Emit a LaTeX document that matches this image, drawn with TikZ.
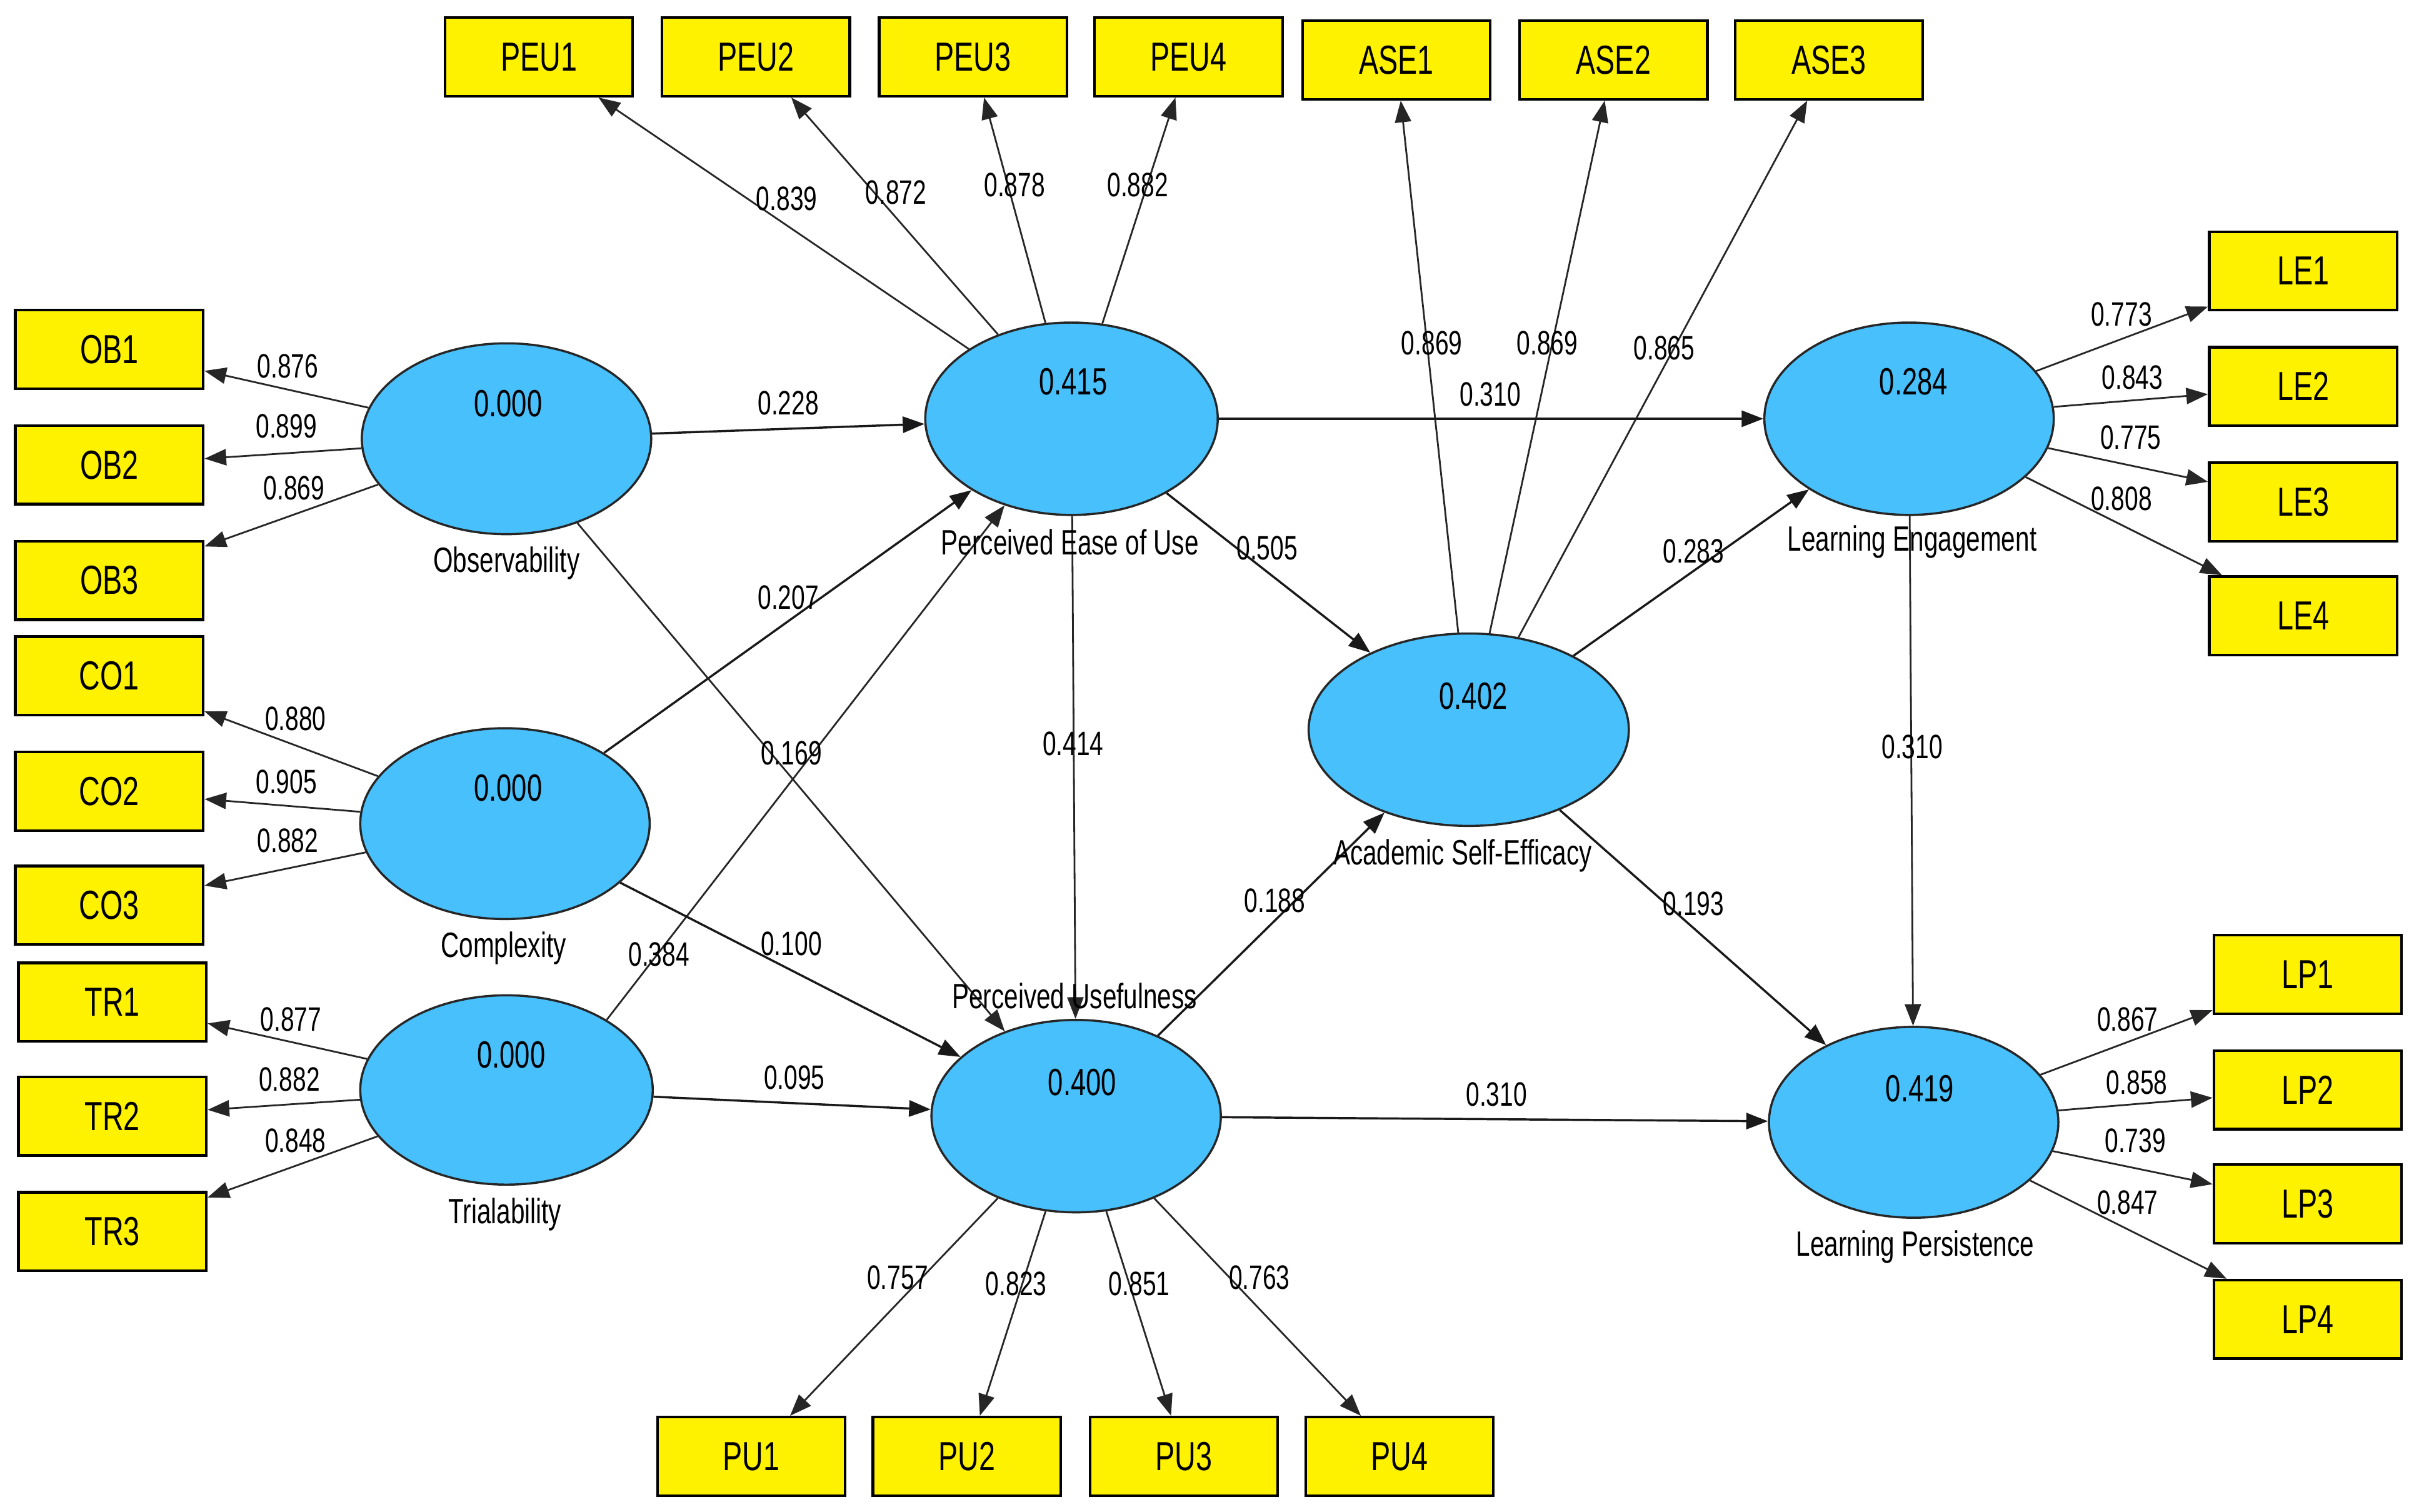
\documentclass[tikz,border=0pt]{standalone}
\usepackage{fontspec}
\setmainfont{Liberation Sans}[FakeStretch=0.72]
\usetikzlibrary{shapes.geometric,arrows.meta}
\definecolor{latblue}{RGB}{72,192,252}
\begin{document}
\begin{tikzpicture}[x=0.02cm,y=-0.02cm,
  ind/.style={draw=black, fill=yellow, line width=1pt, rectangle, inner sep=0pt,
    minimum width=2.44cm, minimum height=1.02cm, font=\fontsize{15}{18}\selectfont},
  lat/.style={ellipse, draw=black!85, fill=latblue, line width=0.8pt, inner sep=0pt,
    minimum width=3.76cm, minimum height=2.48cm},
  val/.style={inner sep=0pt, font=\fontsize{14}{17}\selectfont},
  nm/.style={inner sep=0pt, font=\fontsize{13}{16}\selectfont},
  ld/.style={inner sep=0pt, font=\fontsize{12.5}{15}\selectfont},
  con/.style={draw=black!85, line width=0.65pt, -{Triangle[length=8pt,width=6pt]}},
  path/.style={draw=black!90, line width=0.8pt, -{Triangle[length=8pt,width=6pt]}}]
\useasboundingbox (0,0) rectangle (1568,982);

% indicators
\node[ind] (ob1) at (71,227) {OB1};
\node[ind] (ob2) at (71,302) {OB2};
\node[ind] (ob3) at (71,377) {OB3};
\node[ind] (co1) at (71,439) {CO1};
\node[ind] (co2) at (71,514) {CO2};
\node[ind] (co3) at (71,588) {CO3};
\node[ind] (tr1) at (73,651) {TR1};
\node[ind] (tr2) at (73,725) {TR2};
\node[ind] (tr3) at (73,800) {TR3};
\node[ind] (peu1) at (350,37) {PEU1};
\node[ind] (peu2) at (491,37) {PEU2};
\node[ind] (peu3) at (632,37) {PEU3};
\node[ind] (peu4) at (772,37) {PEU4};
\node[ind] (ase1) at (907,39) {ASE1};
\node[ind] (ase2) at (1048,39) {ASE2};
\node[ind] (ase3) at (1188,39) {ASE3};
\node[ind] (le1) at (1496,176) {LE1};
\node[ind] (le2) at (1496,251) {LE2};
\node[ind] (le3) at (1496,326) {LE3};
\node[ind] (le4) at (1496,400) {LE4};
\node[ind] (lp1) at (1499,633) {LP1};
\node[ind] (lp2) at (1499,708) {LP2};
\node[ind] (lp3) at (1499,782) {LP3};
\node[ind] (lp4) at (1499,857) {LP4};
\node[ind] (pu1) at (488,946) {PU1};
\node[ind] (pu2) at (628,946) {PU2};
\node[ind] (pu3) at (769,946) {PU3};
\node[ind] (pu4) at (909,946) {PU4};

% latent variables
\node[lat] (ob) at (329,285) {};
\node[lat] (co) at (328,535) {};
\node[lat, minimum width=3.8cm, minimum height=2.46cm] (tr) at (329,708) {};
\node[lat, minimum width=3.8cm, minimum height=2.5cm] (peu) at (696,272) {};
\node[lat, minimum height=2.5cm] (pu) at (699,725) {};
\node[lat, minimum width=4.16cm, minimum height=2.5cm] (ase) at (954,474) {};
\node[lat, minimum height=2.5cm] (le) at (1240,272) {};
\node[lat] (lp) at (1243,729) {};

% outer loadings
\draw[con] (ob) -- (ob1);
\draw[con] (ob) -- (ob2);
\draw[con] (ob) -- (ob3);
\draw[con] (co) -- (co1);
\draw[con] (co) -- (co2);
\draw[con] (co) -- (co3);
\draw[con] (tr) -- (tr1);
\draw[con] (tr) -- (tr2);
\draw[con] (tr) -- (tr3);
\draw[con] (peu) -- (peu1);
\draw[con] (peu) -- (peu2);
\draw[con] (peu) -- (peu3);
\draw[con] (peu) -- (peu4);
\draw[con] (ase) -- (ase1);
\draw[con] (ase) -- (ase2);
\draw[con] (ase) -- (ase3);
\draw[con] (le) -- (le1);
\draw[con] (le) -- (le2);
\draw[con] (le) -- (le3);
\draw[con] (le) -- (le4);
\draw[con] (lp) -- (lp1);
\draw[con] (lp) -- (lp2);
\draw[con] (lp) -- (lp3);
\draw[con] (lp) -- (lp4);
\draw[con] (pu) -- (pu1);
\draw[con] (pu) -- (pu2);
\draw[con] (pu) -- (pu3);
\draw[con] (pu) -- (pu4);

% structural paths
\draw[path] (ob) -- (peu);
\draw[path] (co) -- (peu);
\draw[con] (tr.35) -- (peu);
\draw[con] (ob) -- (pu);
\draw[path] (co) -- (pu);
\draw[path] (tr) -- (pu);
\draw[con] (peu) -- (pu);
\draw[path] (peu) -- (ase);
\draw[path] (peu) -- (le);
\draw[path] (pu) -- (ase);
\draw[path] (pu) -- (lp);
\draw[path] (ase) -- (le);
\draw[path] (ase) -- (lp);
\draw[con] (le) -- (lp);

% values inside latent variables
\node[val] (vob) at (330,262) {0.000};
\node[val] (vco) at (330,512) {0.000};
\node[val] (vtr) at (332,685) {0.000};
\node[val] (vpeu) at (697,248) {0.415};
\node[val] (vpu) at (703,703) {0.400};
\node[val] (vase) at (957,452) {0.402};
\node[val] (vle) at (1243,248) {0.284};
\node[val] (vlp) at (1247,707) {0.419};

% latent names
\node[nm] (nob) at (329,366) {Observability};
\node[nm] (nco) at (327,616) {Complexity};
\node[nm] (ntr) at (328,789) {Trialability};
\node[nm] (npeu) at (695,352) {Perceived Ease of Use};
\node[nm] (npu) at (698,647) {Perceived Usefulness};
\node[nm] (nase) at (950,556) {Academic Self-Efficacy};
\node[nm] (nle) at (1242,352) {Learning Engagement};
\node[nm] (nlp) at (1244,810) {Learning Persistence};

% loading labels
\node[ld] (lob1) at (187,238) {0.876};
\node[ld] (lob2) at (186,277) {0.899};
\node[ld] (lob3) at (191,317) {0.869};
\node[ld] (lco1) at (192,467) {0.880};
\node[ld] (lco2) at (186,508) {0.905};
\node[ld] (lco3) at (187,546) {0.882};
\node[ld] (ltr1) at (189,662) {0.877};
\node[ld] (ltr2) at (188,701) {0.882};
\node[ld] (ltr3) at (192,741) {0.848};
\node[ld] (lpeu1) at (511,129) {0.839};
\node[ld] (lpeu2) at (582,125) {0.872};
\node[ld] (lpeu3) at (659,120) {0.878};
\node[ld] (lpeu4) at (739,120) {0.882};
\node[ld] (lase1) at (930,223) {0.869};
\node[ld] (lase2) at (1005,223) {0.869};
\node[ld] (lase3) at (1081,226) {0.865};
\node[ld] (lle1) at (1378,204) {0.773};
\node[ld] (lle2) at (1385,245) {0.843};
\node[ld] (lle3) at (1384,284) {0.775};
\node[ld] (lle4) at (1378,324) {0.808};
\node[ld] (llp1) at (1382,662) {0.867};
\node[ld] (llp2) at (1388,703) {0.858};
\node[ld] (llp3) at (1387,741) {0.739};
\node[ld] (llp4) at (1382,781) {0.847};
\node[ld] (lpu1) at (583,830) {0.757};
\node[ld] (lpu2) at (660,834) {0.823};
\node[ld] (lpu3) at (740,834) {0.851};
\node[ld] (lpu4) at (818,830) {0.763};

% path coefficients
\node[ld] (c1) at (512,262) {0.228};
\node[ld] (c2) at (512,388) {0.207};
\node[ld] (c3) at (428,620) {0.384};
\node[ld] (c4) at (514,489) {0.169};
\node[ld] (c5) at (514,613) {0.100};
\node[ld] (c6) at (516,700) {0.095};
\node[ld] (c7) at (697,483) {0.414};
\node[ld] (c8) at (823,356) {0.505};
\node[ld] (c9) at (968,256) {0.310};
\node[ld] (c10) at (828,585) {0.188};
\node[ld] (c11) at (972,711) {0.310};
\node[ld] (c12) at (1100,358) {0.283};
\node[ld] (c13) at (1100,587) {0.193};
\node[ld] (c14) at (1242,485) {0.310};
\end{tikzpicture}
\end{document}
